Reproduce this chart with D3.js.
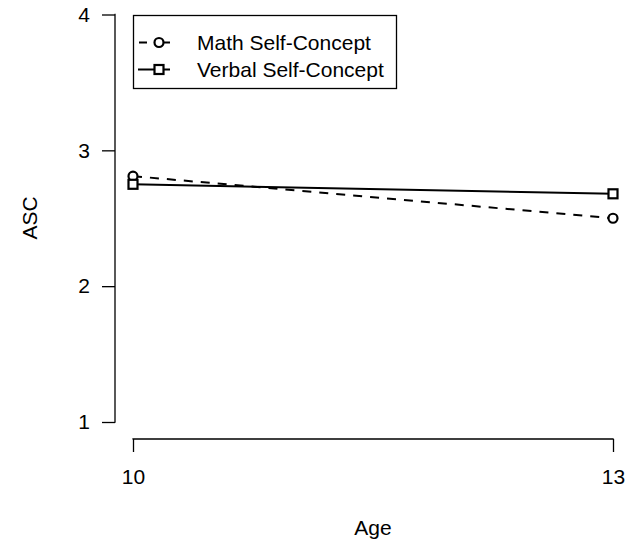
<!DOCTYPE html>
<html>
<head>
<meta charset="utf-8">
<script src="https://cdn.jsdelivr.net/npm/d3@7"></script>
<style>
  body { margin: 0; background: #fff; }
  svg { font-family: "Liberation Sans", Arial, sans-serif; }
</style>
</head>
<body>
<svg id="chart" width="637" height="542"></svg>
<script>
// data
var ages = [10, 13];
var mathSC = [2.81, 2.50];
var verbalSC = [2.75, 2.68];
var yTicks = [1, 2, 3, 4];
var seriesNames = ["Math Self-Concept", "Verbal Self-Concept"];

var svg = d3.select("#chart");

var x = d3.scaleLinear().domain([10, 13]).range([133, 613]);
var y = d3.scaleLinear().domain([1, 4]).range([422, 14.5]);

// axes, R style (detached)
var yAxis = d3.axisLeft(y).tickValues(yTicks).tickSize(13).tickPadding(12).tickFormat(d3.format("d"));
var gy = svg.append("g").attr("transform", "translate(115,0)").call(yAxis);

var xAxis = d3.axisBottom(x).tickValues(ages).tickSize(13).tickPadding(17).tickFormat(d3.format("d"));
var gx = svg.append("g").attr("transform", "translate(0,439)").call(xAxis);

[gy, gx].forEach(function(g) {
  g.selectAll("path, line").attr("stroke", "#000").attr("stroke-width", 1.3);
  g.selectAll("text").attr("fill", "#000").style("font-size", "21px");
  g.select(".domain").attr("d", g === gy
    ? "M-0.5," + y(1) + "H0V" + y(4) + "H-0.5"
    : "M" + x(10) + ",0.5V0H" + x(13) + "V0.5");
});

svg.append("text").attr("x", 373).attr("y", 535).attr("text-anchor", "middle")
  .style("font-size", "21px").text("Age");
svg.append("text").attr("transform", "translate(37,218) rotate(-90)")
  .attr("text-anchor", "middle").style("font-size", "21px").text("ASC");

var line = d3.line().x(function(d, i) { return x(ages[i]); }).y(function(d) { return y(d); });

// math, dashed with circles
svg.append("path").datum(mathSC).attr("d", line)
  .attr("fill", "none").attr("stroke", "#000").attr("stroke-width", 2).attr("stroke-dasharray", "9,8");
// verbal, solid with squares
svg.append("path").datum(verbalSC).attr("d", line)
  .attr("fill", "none").attr("stroke", "#000").attr("stroke-width", 2);

svg.selectAll(".pt-m").data(mathSC).enter().append("circle")
  .attr("cx", function(d, i) { return x(ages[i]); }).attr("cy", function(d) { return y(d); })
  .attr("r", 4.5).attr("fill", "#fff").attr("stroke", "#000").attr("stroke-width", 2.2);

svg.selectAll(".pt-v").data(verbalSC).enter().append("rect")
  .attr("x", function(d, i) { return x(ages[i]) - 4.5; }).attr("y", function(d) { return y(d) - 4.5; })
  .attr("width", 9).attr("height", 9).attr("fill", "#fff").attr("stroke", "#000").attr("stroke-width", 2.2);

// legend
var lg = svg.append("g");
lg.append("rect").attr("x", 133.5).attr("y", 15.5).attr("width", 263).attr("height", 73)
  .attr("fill", "#fff").attr("stroke", "#000").attr("stroke-width", 1.3);

var rows = [42.5, 69.5];
seriesNames.forEach(function(name, i) {
  var ly = rows[i];
  var l = lg.append("line").attr("x1", 138).attr("x2", 170).attr("y1", ly).attr("y2", ly)
    .attr("stroke", "#000").attr("stroke-width", 2);
  if (i === 0) {
    l.attr("x1", 139).attr("stroke-dasharray", "8,8");
    lg.append("line").attr("x1", 163).attr("x2", 170).attr("y1", ly).attr("y2", ly)
      .attr("stroke", "#000").attr("stroke-width", 2);
    lg.append("circle").attr("cx", 159).attr("cy", ly).attr("r", 4.5)
      .attr("fill", "#fff").attr("stroke", "#000").attr("stroke-width", 2.2);
  } else {
    lg.append("rect").attr("x", 154.5).attr("y", ly - 4.5).attr("width", 9).attr("height", 9)
      .attr("fill", "#fff").attr("stroke", "#000").attr("stroke-width", 2.2);
  }
  lg.append("text").attr("x", 197).attr("y", ly + 7).style("font-size", "21px").text(name);
});
</script>
</body>
</html>
